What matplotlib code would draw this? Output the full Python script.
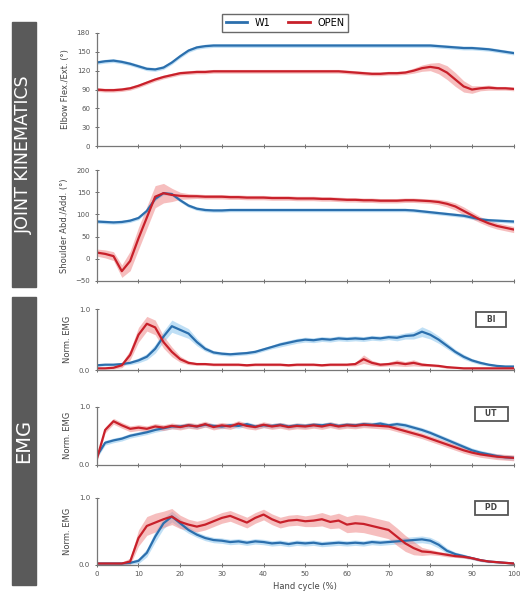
import numpy as np
import matplotlib
matplotlib.use("Agg")
import matplotlib.pyplot as plt
from matplotlib.patches import Rectangle
from matplotlib.lines import Line2D

# hand cycle (%) sampled every 2 %
cycle = np.arange(0, 101, 2)

elbow_w1 = [133,135,136,134,131,127,123,122,125,133, 143,152,157,159,160,160,160,160,160,160,
            160,160,160,160,160,160,160,160,160,160, 160,160,160,160,160,160,160,160,160,160,
            160,159,158,157,156,156,155,154,152,150, 148]
elbow_w1_sd = [3]*51
elbow_open = [90,89,89,90,92,96,101,106,110,113, 116,117,118,118,119,119,119,119,119,119,
              119,119,119,119,119,119,119,119,119,119, 118,117,116,115,115,116,116,117,120,124,
              126,124,117,106,95,90,92,93,92,92, 91]
elbow_open_sd = [3,3,3,3,3,3,3,3,3,3, 3,3,3,3,3,3,3,3,3,3,
                 3,3,3,3,3,3,3,3,3,3, 3,3,3,3,3,3,3,3,4,5,
                 6,9,11,11,9,6,4,4,3,3, 3]

shoulder_w1 = [84,83,82,83,86,92,108,135,148,146, 132,120,113,110,109,109,110,110,110,110,
               110,110,110,110,110,110,110,110,110,110, 110,110,110,110,110,110,110,110,109,107,
               105,103,101,99,97,93,89,87,86,85, 84]
shoulder_w1_sd = [4]*51
shoulder_open = [14,11,6,-28,-5,46,93,140,148,144, 142,141,141,140,140,140,139,139,138,138,
                 138,137,137,137,136,136,136,135,135,134, 133,133,132,132,131,131,131,132,132,131,
                 130,128,124,118,108,98,88,80,74,70, 66]
shoulder_open_sd = [8,9,10,14,22,25,25,25,22,15, 8,6,5,5,5,5,5,5,5,5,
                    5,5,5,5,5,5,5,5,5,5, 5,5,5,5,5,5,5,5,5,5,
                    5,6,7,8,9,8,7,7,7,7, 7]

bi_w1 = [0.08,0.09,0.09,0.10,0.12, 0.16,0.22,0.35,0.55,0.72, 0.66,0.60,0.46,0.35,0.29,
         0.27,0.26,0.27,0.28,0.30, 0.34,0.38,0.42,0.45,0.48, 0.50,0.49,0.51,0.50,0.52,
         0.51,0.52,0.51,0.53,0.52, 0.54,0.53,0.56,0.57,0.63, 0.58,0.50,0.40,0.30,0.22,
         0.16,0.12,0.09,0.07,0.06, 0.06]
bi_w1_sd = [0.02,0.02,0.02,0.02,0.03, 0.04,0.05,0.07,0.09,0.10, 0.09,0.08,0.06,0.04,0.03,
            0.03,0.03,0.03,0.03,0.03, 0.03,0.03,0.04,0.04,0.04, 0.04,0.04,0.04,0.04,0.04,
            0.04,0.04,0.04,0.04,0.04, 0.04,0.05,0.05,0.06,0.08, 0.07,0.06,0.05,0.04,0.04,
            0.03,0.03,0.02,0.02,0.02, 0.02]
bi_open = [0.03,0.03,0.04,0.08,0.25, 0.58,0.76,0.70,0.46,0.30, 0.18,0.12,0.10,0.10,0.09,
           0.09,0.09,0.09,0.08,0.09, 0.09,0.09,0.09,0.08,0.09, 0.09,0.09,0.08,0.09,0.09,
           0.09,0.10,0.18,0.12,0.09, 0.10,0.12,0.10,0.12,0.09, 0.08,0.07,0.05,0.04,0.03,
           0.03,0.03,0.03,0.03,0.03, 0.03]
bi_open_sd = [0.01,0.01,0.02,0.04,0.08, 0.12,0.12,0.12,0.10,0.08, 0.05,0.03,0.02,0.02,0.02,
              0.02,0.02,0.02,0.02,0.02, 0.02,0.02,0.02,0.02,0.02, 0.02,0.02,0.02,0.02,0.02,
              0.02,0.03,0.07,0.04,0.03, 0.03,0.05,0.04,0.05,0.03, 0.02,0.02,0.02,0.01,0.01,
              0.01,0.01,0.01,0.01,0.01, 0.01]

ut_w1 = [0.15,0.38,0.42,0.45,0.50, 0.53,0.56,0.60,0.63,0.66, 0.66,0.68,0.66,0.69,0.67,
         0.66,0.68,0.67,0.70,0.66, 0.68,0.67,0.69,0.66,0.68, 0.67,0.69,0.68,0.70,0.67,
         0.69,0.68,0.70,0.69,0.71, 0.68,0.70,0.68,0.64,0.60, 0.55,0.49,0.43,0.37,0.31,
         0.25,0.21,0.18,0.15,0.13, 0.12]
ut_w1_sd = [0.04]*51
ut_open = [0.10,0.60,0.75,0.68,0.62, 0.64,0.62,0.66,0.64,0.67, 0.65,0.68,0.66,0.70,0.65,
           0.68,0.66,0.71,0.67,0.65, 0.69,0.66,0.68,0.65,0.67, 0.66,0.68,0.66,0.69,0.66,
           0.68,0.67,0.69,0.68,0.67, 0.66,0.62,0.58,0.54,0.50, 0.45,0.40,0.35,0.30,0.25,
           0.21,0.18,0.16,0.14,0.13, 0.12]
ut_open_sd = [0.05]*51

pd_w1 = [0.02,0.02,0.02,0.02,0.03, 0.06,0.18,0.42,0.62,0.72, 0.62,0.52,0.45,0.40,0.37,
         0.36,0.34,0.35,0.33,0.35, 0.34,0.32,0.33,0.31,0.33, 0.32,0.33,0.31,0.32,0.33,
         0.32,0.33,0.32,0.34,0.33, 0.34,0.35,0.36,0.37,0.38, 0.36,0.30,0.21,0.16,0.13,
         0.10,0.07,0.05,0.04,0.03, 0.02]
pd_w1_sd = [0.01,0.01,0.01,0.01,0.02, 0.04,0.06,0.08,0.08,0.08, 0.07,0.05,0.04,0.04,0.04,
            0.04,0.04,0.04,0.04,0.04, 0.04,0.04,0.04,0.04,0.04, 0.04,0.04,0.04,0.04,0.04,
            0.04,0.04,0.04,0.04,0.04, 0.04,0.04,0.05,0.05,0.05, 0.05,0.05,0.04,0.03,0.03,
            0.02,0.02,0.02,0.01,0.01, 0.01]
pd_open = [0.02,0.02,0.02,0.02,0.05, 0.40,0.58,0.63,0.68,0.72, 0.64,0.60,0.57,0.60,0.65,
           0.70,0.73,0.68,0.63,0.70, 0.75,0.68,0.63,0.66,0.67, 0.65,0.66,0.68,0.64,0.66,
           0.60,0.62,0.61,0.58,0.55, 0.52,0.42,0.32,0.25,0.20, 0.19,0.17,0.15,0.13,0.12,
           0.10,0.07,0.05,0.04,0.03, 0.02]
pd_open_sd = [0.01,0.01,0.01,0.02,0.05, 0.12,0.14,0.14,0.12,0.12, 0.10,0.08,0.08,0.08,0.08,
              0.08,0.08,0.08,0.08,0.08, 0.08,0.08,0.08,0.08,0.08, 0.08,0.09,0.10,0.10,0.11,
              0.12,0.13,0.13,0.13,0.13, 0.13,0.13,0.12,0.10,0.06, 0.04,0.03,0.03,0.02,0.02,
              0.02,0.02,0.01,0.01,0.01, 0.01]

BLUE = "#2b6fad"
RED = "#c8202a"
BLUE_BAND = "#8cc6ee"
RED_BAND = "#ef8a8a"

fig = plt.figure(figsize=(5.29, 5.99), dpi=100)

# [left, bottom, width, height], ylim, yticks, ylabel, muscle tag
panels = [
    ([0.183, 0.756, 0.788, 0.189], (0, 180), [0, 30, 60, 90, 120, 150, 180],
     "Elbow Flex./Ext. (°)", None, elbow_w1, elbow_w1_sd, elbow_open, elbow_open_sd),
    ([0.183, 0.531, 0.788, 0.185], (-50, 200), [-50, 0, 50, 100, 150, 200],
     "Shoulder Abd./Add. (°)", None, shoulder_w1, shoulder_w1_sd, shoulder_open, shoulder_open_sd),
    ([0.183, 0.382, 0.788, 0.102], (0, 1.0), [0.0, 1.0],
     "Norm. EMG", ("BI", 0.83), bi_w1, bi_w1_sd, bi_open, bi_open_sd),
    ([0.183, 0.224, 0.788, 0.097], (0, 1.0), [0.0, 1.0],
     "Norm. EMG", ("UT", 0.88), ut_w1, ut_w1_sd, ut_open, ut_open_sd),
    ([0.183, 0.057, 0.788, 0.112], (0, 1.0), [0.0, 1.0],
     "Norm. EMG", ("PD", 0.85), pd_w1, pd_w1_sd, pd_open, pd_open_sd),
]

axes = []
for i, (rect, ylim, yt, ylab, tag, w1, w1sd, op, opsd) in enumerate(panels):
    ax = fig.add_axes(rect)
    w1 = np.array(w1); w1sd = np.array(w1sd)
    op = np.array(op); opsd = np.array(opsd)
    ax.fill_between(cycle, w1 - w1sd, w1 + w1sd, color=BLUE_BAND, alpha=0.55, lw=0)
    ax.fill_between(cycle, op - opsd, op + opsd, color=RED_BAND, alpha=0.55, lw=0)
    ax.plot(cycle, w1, color=BLUE, lw=1.6)
    ax.plot(cycle, op, color=RED, lw=1.6)
    ax.set_xlim(0, 100)
    ax.set_ylim(*ylim)
    ax.set_yticks(yt)
    if ylim[1] == 1.0:
        ax.set_yticklabels(["0.0", "1.0"])
    ax.set_xticks(range(0, 101, 10))
    for s in ["top", "right"]:
        ax.spines[s].set_visible(False)
    for s in ["left", "bottom"]:
        ax.spines[s].set_color("#777777")
        ax.spines[s].set_linewidth(0.9)
    ax.tick_params(axis="both", labelsize=5, colors="#555555", length=2.5, width=0.6, direction="inout")
    ax.set_ylabel(ylab, fontsize=6, color="#444444", labelpad=5)
    if i < len(panels) - 1:
        ax.tick_params(axis="x", labelbottom=False)
    else:
        ax.set_xlabel("Hand cycle (%)", fontsize=6, color="#444444", labelpad=3)
    if tag is not None:
        ax.text(0.946, tag[1], "   " + tag[0] + "   ", transform=ax.transAxes, fontsize=5.5,
                fontweight="bold", color="#444444", ha="center", va="center",
                bbox=dict(boxstyle="square,pad=0.35", fc="white", ec="#555555", lw=1.3))
    axes.append(ax)

# side bars
fig.patches.append(Rectangle((0.0227, 0.521), 0.0453, 0.442, transform=fig.transFigure,
                             color="#5a5a5a", zorder=0))
fig.text(0.0453, 0.742, "JOINT KINEMATICS", rotation=90, color="white", fontsize=12.5,
         ha="center", va="center")
fig.patches.append(Rectangle((0.0227, 0.023), 0.0453, 0.481, transform=fig.transFigure,
                             color="#5a5a5a", zorder=0))
fig.text(0.0453, 0.2635, "EMG", rotation=90, color="white", fontsize=14,
         ha="center", va="center")

handles = [Line2D([0], [0], color=BLUE, lw=2), Line2D([0], [0], color=RED, lw=2)]
fig.legend(handles, ["W1", "OPEN"], loc="upper center", bbox_to_anchor=(0.539, 0.985),
           ncol=2, fontsize=7, frameon=True, fancybox=False, edgecolor="#444444",
           handlelength=2.2, columnspacing=1.8, borderpad=0.4)

fig.savefig("out.png", dpi=100)
